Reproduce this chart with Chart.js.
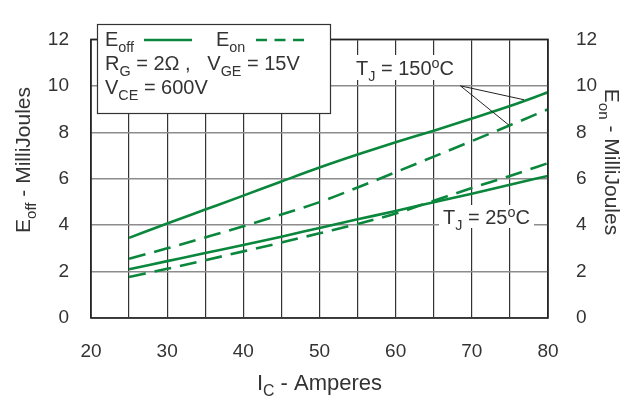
<!DOCTYPE html>
<html lang="en">
<head>
    <meta charset="UTF-8">
    <title>Switching energy vs collector current</title>
    <style>
        html, body { margin: 0; padding: 0; background: #fff; }
        #wrap { width: 642px; height: 400px; }
    </style>
</head>
<body>
    <div id="wrap"><canvas id="chart" width="642" height="400"></canvas></div>
    <script src="https://cdn.jsdelivr.net/npm/chart.js@4.4.1/dist/chart.umd.min.js"></script>
    <script>
        // collector current, amperes
        const currents = [25, 30, 35, 40, 45, 50, 55, 60, 65, 70, 75, 80]
        // switching energies, millijoules
        const eoff150 = [3.45, 4.07, 4.67, 5.27, 5.88, 6.48, 7.04, 7.57, 8.07, 8.59, 9.13, 9.72]
        const eon150 = [2.55, 3.0, 3.47, 3.95, 4.46, 4.99, 5.62, 6.28, 6.95, 7.62, 8.3, 8.99]
        const eoff25 = [2.1, 2.45, 2.8, 3.14, 3.5, 3.88, 4.25, 4.61, 4.99, 5.35, 5.74, 6.12]
        const eon25 = [1.77, 2.12, 2.49, 2.87, 3.25, 3.65, 4.05, 4.5, 5.05, 5.6, 6.12, 6.67]
        const xTicks = [20, 30, 40, 50, 60, 70, 80]
        const yTicks = [0, 2, 4, 6, 8, 10, 12]

        const FONT = "'Liberation Sans', Arial, sans-serif"
        const TEXT = '#333'
        const GREEN = '#0a873c'

        const toPoints = ys => currents.map((x, i) => ({ x: x, y: ys[i] }))

        const series = (label, ys, dashed, axis) => ({
            label: label,
            data: toPoints(ys),
            yAxisID: axis,
            borderColor: GREEN,
            borderWidth: 2.6,
            borderDash: dashed ? [17, 9] : [],
            borderCapStyle: 'butt',
            pointRadius: 0,
            cubicInterpolationMode: 'monotone',
            fill: false
        })

        // text with sub/superscripts: parts = [[text, 'sub' | 'sup' | null], ...]
        const partSize = (p, size) => p[1] ? size * 0.72 : size
        const measureRich = (ctx, parts, size) => {
            let w = 0
            parts.forEach(p => {
                ctx.font = partSize(p, size) + 'px ' + FONT
                w += ctx.measureText(p[0]).width
            })
            return w
        }
        const drawRich = (ctx, x, y, parts, size) => {
            ctx.textBaseline = 'alphabetic'
            ctx.textAlign = 'left'
            parts.forEach(p => {
                ctx.font = partSize(p, size) + 'px ' + FONT
                let dy = 0
                if (p[1] === 'sub') dy = size * 0.28
                if (p[1] === 'sup') dy = -size * 0.36
                ctx.fillText(p[0], x, y + dy)
                x += ctx.measureText(p[0]).width
            })
        }

        const decorations = {
            id: 'decorations',
            afterDatasetsDraw(chart) {
                const ctx = chart.ctx
                const sx = chart.scales.x
                const sy = chart.scales.y
                const a = chart.chartArea
                ctx.save()

                // plot frame
                ctx.strokeStyle = '#222'
                ctx.lineWidth = 1.6
                ctx.strokeRect(a.left, a.top, a.right - a.left, a.bottom - a.top)

                // legend box
                ctx.fillStyle = '#fff'
                ctx.fillRect(97, 24, 233, 89)
                ctx.strokeStyle = '#333'
                ctx.lineWidth = 1.2
                ctx.strokeRect(97.5, 24.5, 233, 89)
                ctx.fillStyle = TEXT
                drawRich(ctx, 105, 46, [['E', null], ['off', 'sub']], 20)
                drawRich(ctx, 216, 46, [['E', null], ['on', 'sub']], 20)
                drawRich(ctx, 105, 70, [['R', null], ['G', 'sub'], [' = 2\u03A9 ,   V', null], ['GE', 'sub'], [' = 15V', null]], 20)
                drawRich(ctx, 105, 94, [['V', null], ['CE', 'sub'], [' = 600V', null]], 20)
                ctx.strokeStyle = GREEN
                ctx.lineWidth = 2.6
                ctx.beginPath()
                ctx.moveTo(144, 40); ctx.lineTo(192, 40)
                ctx.stroke()
                ctx.setLineDash([11, 7.5])
                ctx.beginPath()
                ctx.moveTo(256, 40); ctx.lineTo(304, 40)
                ctx.stroke()
                ctx.setLineDash([])

                // temperature labels
                ctx.fillStyle = '#fff'
                ctx.fillRect(351, 55, 106, 25)
                ctx.fillRect(439, 205, 95, 23)
                ctx.fillStyle = TEXT
                drawRich(ctx, 356, 75, [['T', null], ['J', 'sub'], [' = 150', null], ['o', 'sup'], ['C', null]], 20)
                drawRich(ctx, 443, 224, [['T', null], ['J', 'sub'], [' = 25', null], ['o', 'sup'], ['C', null]], 20)

                // leader lines to the 150 C curves
                ctx.strokeStyle = '#222'
                ctx.lineWidth = 1
                const x0 = sx.getPixelForValue(68.5), y0 = sy.getPixelForValue(10.0)
                ctx.beginPath()
                ctx.moveTo(x0, y0); ctx.lineTo(sx.getPixelForValue(76.85), sy.getPixelForValue(9.4))
                ctx.moveTo(x0, y0); ctx.lineTo(sx.getPixelForValue(74.9), sy.getPixelForValue(8.3))
                ctx.stroke()

                // axis titles
                ctx.fillStyle = TEXT
                let parts = [['I', null], ['C', 'sub'], [' - Amperes', null]]
                let w = measureRich(ctx, parts, 22)
                drawRich(ctx, (a.left + a.right) / 2 - w / 2, 390, parts, 22)

                parts = [['E', null], ['off', 'sub'], [' - MilliJoules', null]]
                w = measureRich(ctx, parts, 21)
                ctx.save()
                ctx.translate(30, 160)
                ctx.rotate(-Math.PI / 2)
                drawRich(ctx, -w / 2, 0, parts, 21)
                ctx.restore()

                parts = [['E', null], ['on', 'sub'], [' - MilliJoules', null]]
                w = measureRich(ctx, parts, 21)
                ctx.save()
                ctx.translate(605, 162)
                ctx.rotate(Math.PI / 2)
                drawRich(ctx, -w / 2, 0, parts, 21)
                ctx.restore()

                ctx.restore()
            }
        }

        const tickFont = { family: FONT, size: 19 }

        const config = {
            type: 'line',
            data: {
                datasets: [
                    series('Eoff 150C', eoff150, false, 'y'),
                    series('Eon 150C', eon150, true, 'y2'),
                    series('Eoff 25C', eoff25, false, 'y'),
                    series('Eon 25C', eon25, true, 'y2')
                ]
            },
            options: {
                responsive: false,
                animation: false,
                layout: { padding: { top: 18, left: 0, right: 0, bottom: 0 } },
                plugins: { legend: { display: false }, tooltip: { enabled: false } },
                scales: {
                    x: {
                        type: 'linear',
                        min: 20, max: 80,
                        afterFit: s => { s.height = 82 },
                        grid: { color: '#333', lineWidth: 1.2, drawTicks: false },
                        border: { display: false },
                        ticks: {
                            stepSize: 5, padding: 22, color: TEXT, font: tickFont, maxRotation: 0,
                            callback: v => xTicks.includes(v) ? String(v) : ''
                        }
                    },
                    y: {
                        position: 'left',
                        min: 0, max: 12,
                        afterFit: s => { s.width = 91 },
                        grid: { color: '#8c8c8c', lineWidth: 1.5, drawTicks: false },
                        border: { display: false },
                        ticks: {
                            stepSize: 1, padding: 22, color: TEXT, font: tickFont,
                            callback: v => yTicks.includes(v) ? String(v) : ''
                        }
                    },
                    y2: {
                        position: 'right',
                        min: 0, max: 12,
                        afterFit: s => { s.width = 94 },
                        grid: { drawOnChartArea: false, drawTicks: false },
                        border: { display: false },
                        ticks: {
                            stepSize: 1, padding: 28, color: TEXT, font: tickFont,
                            callback: v => yTicks.includes(v) ? String(v) : ''
                        }
                    }
                }
            },
            plugins: [decorations]
        }

        new Chart(document.getElementById('chart'), config)
    </script>
</body>
</html>
